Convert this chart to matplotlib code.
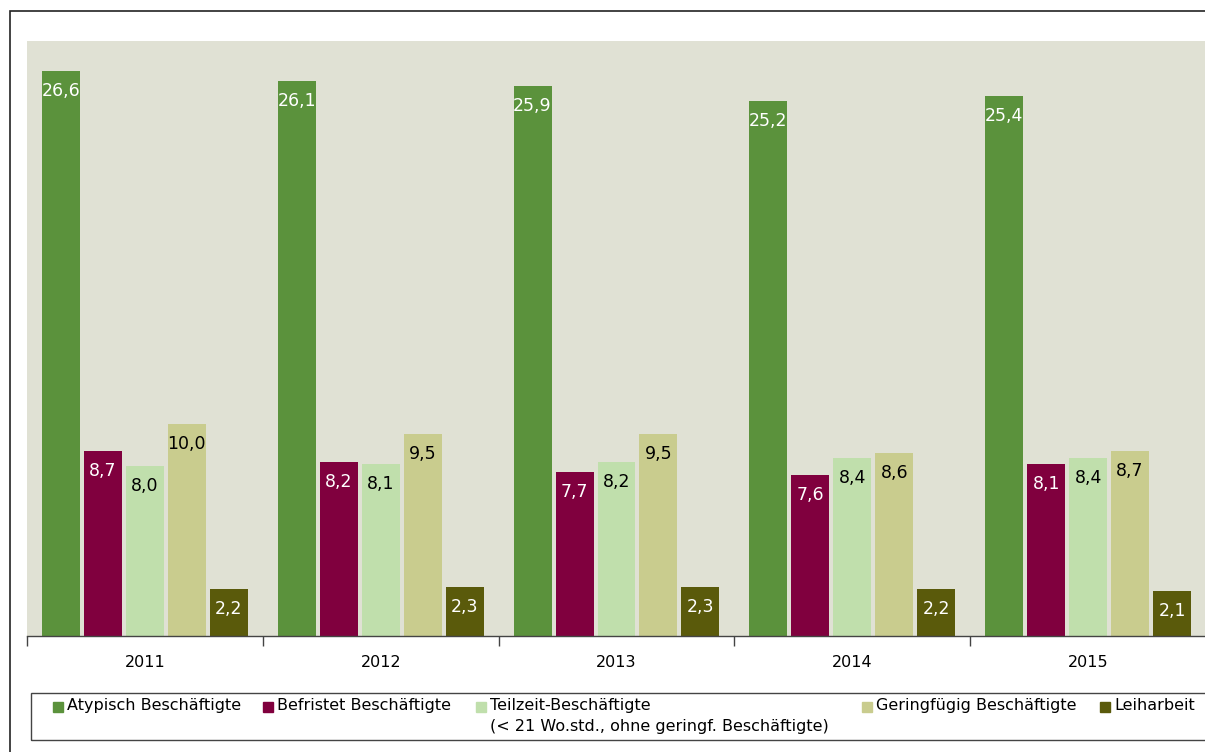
import matplotlib
matplotlib.use("Agg")
import matplotlib.pyplot as plt
from matplotlib.patches import Rectangle
import numpy as np

years = ["2011", "2012", "2013", "2014", "2015"]
series_names = ["Atypisch Beschäftigte", "Befristet Beschäftigte",
                "Teilzeit-Beschäftigte\n(< 21 Wo.std., ohne geringf. Beschäftigte)",
                "Geringfügig Beschäftigte", "Leiharbeit"]
atypisch = [26.6, 26.1, 25.9, 25.2, 25.4]
befristet = [8.7, 8.2, 7.7, 7.6, 8.1]
teilzeit = [8.0, 8.1, 8.2, 8.4, 8.4]
geringfuegig = [10.0, 9.5, 9.5, 8.6, 8.7]
leiharbeit = [2.2, 2.3, 2.3, 2.2, 2.1]

series = [atypisch, befristet, teilzeit, geringfuegig, leiharbeit]
colors = ["#5B923C", "#80003E", "#C0DFAC", "#C9CC8E", "#5A5A0B"]
label_colors = ["white", "white", "black", "black", "white"]

W, H = 1205, 752
fig = plt.figure(figsize=(W / 100, H / 100), dpi=100)

def fx(px):
    return px / W

def fy(py):
    return 1 - py / H

# outer border
fig.patches.append(Rectangle((fx(9.5), fy(760)), fx(1300), fy(10.5) - fy(760),
                             transform=fig.transFigure, fill=False,
                             edgecolor="#222222", lw=1.2))

ax = fig.add_axes([fx(27), fy(636), fx(1206) - fx(27), fy(41) - fy(636)])
ax.set_facecolor("#E0E1D4")

x = np.arange(len(years))
step = 0.178
width = 0.161
for i, (vals, c, lc) in enumerate(zip(series, colors, label_colors)):
    pos = x + (i - 2) * step
    bars = ax.bar(pos, vals, width=width, color=c, zorder=2)
    for b, v in zip(bars, vals):
        ax.annotate(f"{v:.1f}".replace(".", ","),
                    (b.get_x() + b.get_width() / 2, b.get_height()),
                    xytext=(0, -8), textcoords="offset points",
                    ha="center", va="top", color=lc, fontsize=12.5,
                    family="DejaVu Sans", zorder=3)

ax.set_xlim(-0.5, len(years) - 0.5)
ax.set_ylim(0, 28)
ax.set_yticks([])
for s in ["top", "right", "left"]:
    ax.spines[s].set_visible(False)
ax.spines["bottom"].set_color("#444444")
ax.spines["bottom"].set_linewidth(1.0)

# category boundaries as tick marks, labels centered
ax.set_xticks(np.arange(-0.5, len(years) + 0.5, 1.0))
ax.set_xticklabels([])
ax.tick_params(axis="x", length=7, color="#444444", width=1.0)
ax.set_xticks(x, minor=True)
ax.set_xticklabels(years, minor=True, fontsize=11.5, family="DejaVu Sans")
ax.tick_params(axis="x", which="minor", length=0, pad=14)

# legend box
fig.patches.append(Rectangle((fx(30.5), fy(740)), fx(1300), fy(693) - fy(740),
                             transform=fig.transFigure, fill=False,
                             edgecolor="#444444", lw=1.0))
sq_x = [53, 263, 476, 862, 1100]
for sx, name, c in zip(sq_x, series_names, colors):
    fig.patches.append(Rectangle((fx(sx), fy(712)), fx(10), fy(702) - fy(712),
                                 transform=fig.transFigure, color=c))
    fig.text(fx(sx + 14), fy(698), name, ha="left", va="top",
             fontsize=11.5, family="DejaVu Sans", linespacing=1.5)

fig.savefig("out.png", dpi=100)
